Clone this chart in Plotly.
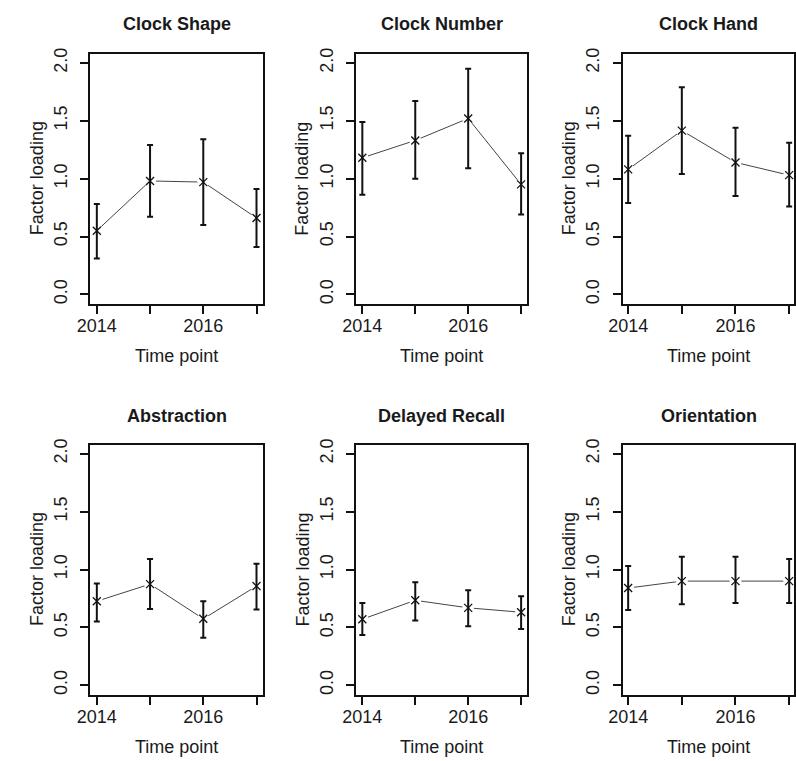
import plotly.graph_objects as go

years = [2014, 2015, 2016, 2017]
titles = ["Clock Shape", "Clock Number", "Clock Hand",
          "Abstraction", "Delayed Recall", "Orientation"]

clock_shape = [0.55, 0.98, 0.97, 0.66]
clock_shape_hi = [0.78, 1.29, 1.34, 0.91]
clock_shape_lo = [0.31, 0.67, 0.60, 0.41]

clock_number = [1.18, 1.33, 1.52, 0.95]
clock_number_hi = [1.49, 1.67, 1.95, 1.22]
clock_number_lo = [0.86, 1.00, 1.09, 0.69]

clock_hand = [1.08, 1.415, 1.14, 1.03]
clock_hand_hi = [1.37, 1.79, 1.44, 1.31]
clock_hand_lo = [0.79, 1.04, 0.85, 0.76]

abstraction = [0.726, 0.874, 0.574, 0.857]
abstraction_hi = [0.88, 1.09, 0.726, 1.05]
abstraction_lo = [0.55, 0.66, 0.41, 0.654]

delayed_recall = [0.571, 0.734, 0.669, 0.631]
delayed_recall_hi = [0.71, 0.89, 0.82, 0.77]
delayed_recall_lo = [0.434, 0.56, 0.51, 0.486]

orientation = [0.84, 0.90, 0.90, 0.90]
orientation_hi = [1.03, 1.11, 1.11, 1.09]
orientation_lo = [0.65, 0.70, 0.71, 0.71]

y_ticks = [0.0, 0.5, 1.0, 1.5, 2.0]
y_tick_labels = ["0.0", "0.5", "1.0", "1.5", "2.0"]
x_tick_labels = ["2014", "", "2016", ""]

series = [
    (clock_shape, clock_shape_hi, clock_shape_lo),
    (clock_number, clock_number_hi, clock_number_lo),
    (clock_hand, clock_hand_hi, clock_hand_lo),
    (abstraction, abstraction_hi, abstraction_lo),
    (delayed_recall, delayed_recall_hi, delayed_recall_lo),
    (orientation, orientation_hi, orientation_lo),
]

W, H = 796, 761
# panel boxes in pixels (left, right) and (top, bottom)
cols = [(78, 254), (349, 524), (621, 796)]
rows = [(48, 300), (442, 694)]
xranges = [[2013.88, 2017.12], [2013.88, 2017.12], [2013.895, 2017.09]]

TXT = "#1a1a1a"
FONT = "Liberation Sans, Arial, Helvetica, sans-serif"

fig = go.Figure()
annotations = []
for i, (vals, hi, lo) in enumerate(series):
    r, c = divmod(i, 3)
    n = i + 1
    xa = "x" if n == 1 else f"x{n}"
    ya = "y" if n == 1 else f"y{n}"
    plus = [h - v for h, v in zip(hi, vals)]
    minus = [v - l for v, l in zip(vals, lo)]
    fig.add_trace(go.Scatter(x=years, y=vals, mode="lines", xaxis=xa, yaxis=ya,
                             line=dict(color="#444444", width=1), showlegend=False,
                             hoverinfo="skip"))
    fig.add_trace(go.Scatter(x=years, y=vals, mode="markers", xaxis=xa, yaxis=ya,
                             marker=dict(symbol="circle", size=12, color="white"),
                             showlegend=False, hoverinfo="skip"))
    fig.add_trace(go.Scatter(x=years, y=vals, mode="markers", xaxis=xa, yaxis=ya,
                             marker=dict(symbol="x-thin", size=8,
                                         line=dict(color="#111111", width=1.3)),
                             error_y=dict(type="data", symmetric=False, array=plus,
                                          arrayminus=minus, color="#111111",
                                          thickness=2, width=3),
                             showlegend=False, name=titles[i]))
    x0, x1 = cols[c]
    t0, t1 = rows[r]
    axis_common = dict(showline=True, linecolor="#111111", linewidth=2, mirror=True,
                       ticks="outside", ticklen=8, tickwidth=1.5, tickcolor="#111111",
                       showgrid=False, zeroline=False,
                       tickfont=dict(family=FONT, size=18, color=TXT))
    fig.layout[f"xaxis{'' if n == 1 else n}"] = dict(
        domain=[x0 / W, min(x1 / W, 1.0)], range=xranges[c], anchor=ya,
        tickmode="array", tickvals=years, ticktext=x_tick_labels,
        ticklabelstandoff=-3, **axis_common)
    fig.layout[f"yaxis{'' if n == 1 else n}"] = dict(
        domain=[1 - t1 / H, 1 - t0 / H], range=[-0.08, 2.08], anchor=xa,
        tickmode="array", tickvals=y_ticks, ticktext=y_tick_labels, tickangle=-90,
        ticklabelstandoff=6, **axis_common)
    cx = (x0 + (x1 if c < 2 else 797)) / 2
    title_y = 18 if r == 0 else 413
    xt_y = 353 if r == 0 else 747
    annotations.append(dict(text=f"<b>{titles[i]}</b>", x=cx / W, y=1 - title_y / H,
                            xref="paper", yref="paper", showarrow=False,
                            xanchor="center", yanchor="middle",
                            font=dict(family=FONT, size=18, color=TXT)))
    annotations.append(dict(text="Time point", x=cx / W, y=1 - xt_y / H,
                            xref="paper", yref="paper", showarrow=False,
                            xanchor="center", yanchor="middle",
                            font=dict(family=FONT, size=18, color=TXT)))
    annotations.append(dict(text="Factor loading", x=(x0 - 55) / W,
                            y=1 - ((t0 + t1) / 2) / H,
                            xref="paper", yref="paper", showarrow=False, textangle=-90,
                            xanchor="center", yanchor="middle",
                            font=dict(family=FONT, size=18, color=TXT)))

fig.update_layout(width=W, height=H, margin=dict(l=0, r=0, t=0, b=0),
                  paper_bgcolor="white", plot_bgcolor="white",
                  annotations=annotations)
fig.write_html("out.html")
